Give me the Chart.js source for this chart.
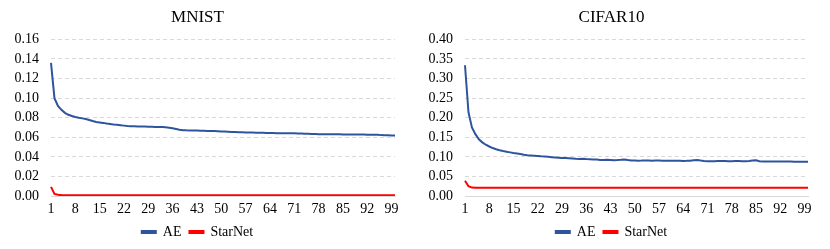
<!DOCTYPE html>
<html>
<head>
<meta charset="utf-8">
<script src="https://cdn.jsdelivr.net/npm/chart.js@4/dist/chart.umd.min.js"></script>
<style>
  html, body { margin: 0; padding: 0; background: #fff; }
  .row { display: flex; width: 830px; height: 249px; }
  .cell { position: relative; width: 415px; height: 249px; }
</style>
</head>
<body>
<div class="row">
  <div class="cell"><canvas id="mnistChart"></canvas></div>
  <div class="cell"><canvas id="cifarChart"></canvas></div>
</div>
<script>
// epochs 1..100, a label every 7th epoch is shown
const epochs = [
  1, 2, 3, 4, 5, 6, 7, 8, 9, 10, 11, 12, 13, 14, 15, 16, 17, 18, 19, 20,
  21, 22, 23, 24, 25, 26, 27, 28, 29, 30, 31, 32, 33, 34, 35, 36, 37, 38, 39, 40,
  41, 42, 43, 44, 45, 46, 47, 48, 49, 50, 51, 52, 53, 54, 55, 56, 57, 58, 59, 60,
  61, 62, 63, 64, 65, 66, 67, 68, 69, 70, 71, 72, 73, 74, 75, 76, 77, 78, 79, 80,
  81, 82, 83, 84, 85, 86, 87, 88, 89, 90, 91, 92, 93, 94, 95, 96, 97, 98, 99, 100
];
const shownTicks = [1, 8, 15, 22, 29, 36, 43, 50, 57, 64, 71, 78, 85, 92, 99];

const mnistAE = [
  0.136, 0.100, 0.092, 0.088, 0.085, 0.083, 0.0818, 0.0808, 0.0800, 0.0793,
  0.0786, 0.0777, 0.0766, 0.0757, 0.0752, 0.0747, 0.0741, 0.0736, 0.0731, 0.0727,
  0.0723, 0.0719, 0.0715, 0.0713, 0.0712, 0.0711, 0.0710, 0.0709, 0.0708, 0.0707,
  0.0706, 0.0705, 0.0704, 0.0702, 0.0698, 0.0692, 0.0685, 0.0678, 0.0673, 0.0671,
  0.0670, 0.0669, 0.0668, 0.0667, 0.0666, 0.0665, 0.0664, 0.0663, 0.0662, 0.0660,
  0.0658, 0.0656, 0.0654, 0.0653, 0.0652, 0.0651, 0.0650, 0.0649, 0.0648, 0.0647,
  0.0646, 0.0645, 0.0644, 0.0644, 0.0643, 0.0642, 0.0641, 0.0641, 0.0640, 0.0640,
  0.0640, 0.0639, 0.0638, 0.0636, 0.0635, 0.0634, 0.0633, 0.0632, 0.0632, 0.0631,
  0.0631, 0.0630, 0.0630, 0.0630, 0.0629, 0.0629, 0.0629, 0.0629, 0.0628, 0.0628,
  0.0628, 0.0627, 0.0627, 0.0626, 0.0625, 0.0622, 0.0620, 0.0620, 0.0619, 0.0619
];
const mnistStarNet = [
  0.0093, 0.0022, 0.0012, 0.0009, 0.0008, 0.0008, 0.0008, 0.0008, 0.0008, 0.0008,
  0.0008, 0.0008, 0.0008, 0.0008, 0.0008, 0.0008, 0.0008, 0.0008, 0.0008, 0.0008,
  0.0008, 0.0008, 0.0008, 0.0008, 0.0008, 0.0008, 0.0008, 0.0008, 0.0008, 0.0008,
  0.0008, 0.0008, 0.0008, 0.0008, 0.0008, 0.0008, 0.0008, 0.0008, 0.0008, 0.0008,
  0.0008, 0.0008, 0.0008, 0.0008, 0.0008, 0.0008, 0.0008, 0.0008, 0.0008, 0.0008,
  0.0008, 0.0008, 0.0008, 0.0008, 0.0008, 0.0008, 0.0008, 0.0008, 0.0008, 0.0008,
  0.0008, 0.0008, 0.0008, 0.0008, 0.0008, 0.0008, 0.0008, 0.0008, 0.0008, 0.0008,
  0.0008, 0.0008, 0.0008, 0.0008, 0.0008, 0.0008, 0.0008, 0.0008, 0.0008, 0.0008,
  0.0008, 0.0008, 0.0008, 0.0008, 0.0008, 0.0008, 0.0008, 0.0008, 0.0008, 0.0008,
  0.0008, 0.0008, 0.0008, 0.0008, 0.0008, 0.0008, 0.0008, 0.0008, 0.0008, 0.0008
];

const cifarAE = [
  0.334, 0.214, 0.175, 0.158, 0.145, 0.137, 0.131, 0.1265, 0.1225, 0.1195,
  0.1170, 0.1148, 0.1130, 0.1114, 0.1100, 0.1088, 0.1075, 0.1055, 0.1042, 0.1035,
  0.1028, 0.1020, 0.1013, 0.1008, 0.1000, 0.0992, 0.0985, 0.0978, 0.0972, 0.0968,
  0.0963, 0.0958, 0.0952, 0.0948, 0.0950, 0.0942, 0.0938, 0.0934, 0.0930, 0.0922,
  0.0918, 0.0924, 0.0920, 0.0916, 0.0918, 0.0925, 0.0934, 0.0920, 0.0908, 0.0905,
  0.0902, 0.0904, 0.0908, 0.0906, 0.0903, 0.0907, 0.0905, 0.0902, 0.0900, 0.0901,
  0.0899, 0.0898, 0.0900, 0.0897, 0.0899, 0.0903, 0.0912, 0.0920, 0.0905, 0.0895,
  0.0888, 0.0886, 0.0890, 0.0893, 0.0894, 0.0892, 0.0890, 0.0889, 0.0891, 0.0893,
  0.0890, 0.0888, 0.0896, 0.0908, 0.0914, 0.0890, 0.0880, 0.0882, 0.0884, 0.0882,
  0.0880, 0.0882, 0.0881, 0.0880, 0.0882, 0.0878, 0.0874, 0.0873, 0.0875, 0.0876
];
const cifarStarNet = [
  0.039, 0.025, 0.0215, 0.0210, 0.0208, 0.0208, 0.0208, 0.0208, 0.0208, 0.0208,
  0.0208, 0.0208, 0.0208, 0.0208, 0.0208, 0.0208, 0.0208, 0.0208, 0.0208, 0.0208,
  0.0208, 0.0208, 0.0208, 0.0208, 0.0208, 0.0208, 0.0208, 0.0208, 0.0208, 0.0208,
  0.0208, 0.0208, 0.0208, 0.0208, 0.0208, 0.0208, 0.0208, 0.0208, 0.0208, 0.0208,
  0.0208, 0.0208, 0.0208, 0.0208, 0.0208, 0.0208, 0.0208, 0.0208, 0.0208, 0.0208,
  0.0208, 0.0208, 0.0208, 0.0208, 0.0208, 0.0208, 0.0208, 0.0208, 0.0208, 0.0208,
  0.0208, 0.0208, 0.0208, 0.0208, 0.0208, 0.0208, 0.0208, 0.0208, 0.0208, 0.0208,
  0.0208, 0.0208, 0.0208, 0.0208, 0.0208, 0.0208, 0.0208, 0.0208, 0.0208, 0.0208,
  0.0208, 0.0208, 0.0208, 0.0208, 0.0208, 0.0208, 0.0208, 0.0208, 0.0208, 0.0208,
  0.0208, 0.0208, 0.0208, 0.0208, 0.0208, 0.0208, 0.0208, 0.0208, 0.0208, 0.0208
];

const serif = "'Liberation Serif', 'Times New Roman', serif";
const aeColor = "#2f549e";
const starColor = "#ff0000";
const gridColor = "#d9d9d9";

function makeChart(canvasId, title, ae, star, yMax, yStep, yWidth, rightPad) {
  const ctx = document.getElementById(canvasId).getContext("2d");
  return new Chart(ctx, {
    type: "line",
    data: {
      labels: epochs,
      datasets: [
        { label: "AE", data: ae, borderColor: aeColor, backgroundColor: aeColor,
          borderWidth: 2, pointRadius: 0, tension: 0 },
        { label: "StarNet", data: star, borderColor: starColor, backgroundColor: starColor,
          borderWidth: 2, pointRadius: 0, tension: 0 },
      ],
    },
    options: {
      responsive: true,
      maintainAspectRatio: false,
      animation: false,
      layout: { padding: { left: 0, right: rightPad, top: 0, bottom: 0 } },
      plugins: {
        title: {
          display: true,
          text: title,
          color: "#000",
          font: { family: serif, size: 17, weight: "normal" },
          padding: { top: 7, bottom: 12 },
        },
        legend: {
          position: "bottom",
          labels: {
            color: "#000",
            font: { family: serif, size: 14 },
            boxWidth: 14,
            boxHeight: 2,
            padding: 8,
          },
        },
        tooltip: { enabled: false },
      },
      scales: {
        x: {
          grid: { display: false },
          border: { display: true, color: gridColor, width: 1 },
          ticks: {
            color: "#000",
            font: { family: serif, size: 14 },
            autoSkip: false,
            maxRotation: 0,
            padding: -3,
            callback: (v, i) => (shownTicks.includes(epochs[i]) ? String(epochs[i]) : ""),
          },
          afterFit: (scale) => { scale.height = 21; },
        },
        y: {
          min: 0,
          max: yMax,
          ticks: {
            stepSize: yStep,
            autoSkip: false,
            color: "#000",
            font: { family: serif, size: 14 },
            padding: 12,
            callback: (v) => Number(v).toFixed(2),
          },
          grid: { color: gridColor, lineWidth: 1, drawTicks: false, borderDash: [4, 3] },
          border: { display: false, dash: [4, 3] },
          afterFit: (scale) => { scale.width = yWidth; },
        },
      },
    },
  });
}

makeChart("mnistChart", "MNIST", mnistAE, mnistStarNet, 0.16, 0.02, 51, 20);
makeChart("cifarChart", "CIFAR10", cifarAE, cifarStarNet, 0.40, 0.05, 50, 22);
</script>
</body>
</html>
